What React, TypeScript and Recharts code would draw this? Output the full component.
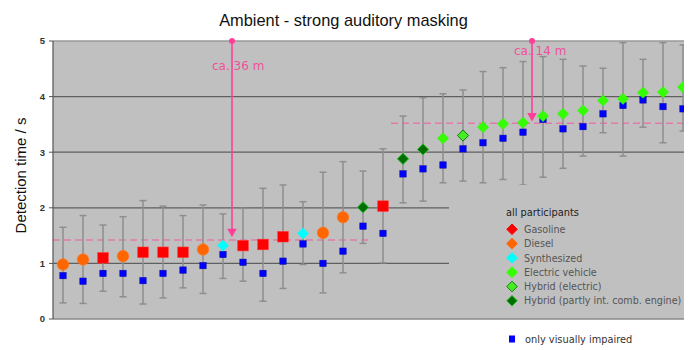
import React from 'react';
import { ScatterChart, Scatter, XAxis, YAxis, CartesianGrid, ReferenceLine, ErrorBar } from 'recharts';

// vehicle sound type per stimulus (sorted by detection time)
const soundTypes = ['D','D','G','D','G','G','G','D','S','G','G','G','S','D','D','HC','G','HC','HC','E','HE','E','E','E','E','E','E','E','E','E','E','E'];
// mean detection time, all participants (s)
const allParticipants = [0.98,1.07,1.10,1.13,1.20,1.20,1.20,1.25,1.32,1.32,1.34,1.48,1.54,1.55,1.83,2.01,2.03,2.88,3.05,3.25,3.30,3.45,3.51,3.53,3.65,3.69,3.75,3.93,3.96,4.07,4.08,4.17];
// mean detection time, only visually impaired (s)
const visuallyImpaired = [0.78,0.68,0.82,0.82,0.69,0.82,0.88,0.96,1.16,1.02,0.82,1.04,1.35,1.00,1.22,1.67,1.54,2.61,2.70,2.77,3.06,3.17,3.25,3.36,3.59,3.42,3.46,3.69,3.84,3.94,3.82,3.78];
// spread (lower / upper bound) of all participants (s)
const rangeLow = [0.29,0.28,0.50,0.40,0.27,0.38,0.56,0.46,0.73,0.68,0.32,0.55,0.98,0.47,0.83,1.36,1.01,2.09,2.12,2.45,2.48,2.45,2.51,2.41,2.55,2.71,2.93,3.35,2.93,3.45,3.17,3.38];
const rangeHigh = [1.65,1.86,1.69,1.84,2.13,2.03,1.86,2.05,1.89,1.99,2.35,2.41,2.11,2.64,2.83,2.66,3.06,3.65,3.98,4.05,4.12,4.45,4.52,4.63,4.72,4.67,4.55,4.51,4.97,4.67,4.97,4.93];

const yTicks = [0, 1, 2, 3, 4, 5];
const innerGrid = [1, 2, 3, 4];

const typeKeys = ['G', 'D', 'S', 'E', 'HE', 'HC'];
const typeNames = ['Gasoline', 'Diesel', 'Synthesized', 'Electric vehicle', 'Hybrid (electric)', 'Hybrid (partly int. comb. engine)'];

// threshold levels (s) and their stimulus index span
const thresholdLevels = [1.42, 3.52];
const thresholdFrom = [-0.5, 16.4];
const thresholdTo = [15.45, 31.45];

// distance annotations: stimulus index position, arrow end (s), label
const distanceAt = [8.45, 23.45];
const distanceEnd = [1.47, 3.55];
const distanceLabels = ['ca. 36 m', 'ca. 14 m'];

const W = 684;
const H = 342;
const PINK = '#ff3f98';

const styles: Record<string, { shape: string; fill: string; stroke: string }> = {
  G: { shape: 'square', fill: '#ff0000', stroke: '#ff3b3b' },
  D: { shape: 'circle', fill: '#ff6600', stroke: '#ff7a22' },
  S: { shape: 'diamond', fill: '#00ffff', stroke: '#22eeee' },
  E: { shape: 'diamond', fill: '#33ff00', stroke: '#33ee11' },
  HE: { shape: 'diamond', fill: '#44ee22', stroke: '#137a13' },
  HC: { shape: 'diamond', fill: '#006e00', stroke: '#22bb22' },
};

const makeShape = (key: string) => (props: any) => {
  const { cx, cy } = props;
  const s = styles[key];
  if (s.shape === 'circle') return <circle cx={cx} cy={cy} r={5.8} fill={s.fill} stroke={s.stroke} strokeWidth={0.6} />;
  if (s.shape === 'square') return <rect x={cx - 5.3} y={cy - 5.3} width={10.6} height={10.6} fill={s.fill} stroke={s.stroke} strokeWidth={0.6} />;
  const r = 5.6;
  return <polygon points={`${cx},${cy - r} ${cx + r},${cy} ${cx},${cy + r} ${cx - r},${cy}`} fill={s.fill} stroke={s.stroke} strokeWidth={key === 'E' || key === 'S' ? 0.5 : 1} />;
};

const blueShape = (props: any) => {
  const { cx, cy } = props;
  return <rect x={cx - 3.2} y={cy - 3.2} width={6.4} height={6.4} fill="#0000ff" stroke="#0a0aa0" strokeWidth={0.5} />;
};

const emptyShape = () => <g />;

const errData = allParticipants.map((v, i) => ({ x: i, y: v, err: [v - rangeLow[i], rangeHigh[i] - v] }));
const blueData = visuallyImpaired.map((v, i) => ({ x: i, y: v }));
const typeData = typeKeys.map((k) =>
  allParticipants.map((v, i) => ({ x: i, y: v, t: soundTypes[i] })).filter((d) => d.t === k)
);

const labelOffsets = [{ dx: -20, dy: 29 }, { dx: -18, dy: 14 }];

const arrowShape = (idx: number) => (p: any) => {
  const { x1, y1, y2 } = p;
  const top = Math.min(y1, y2);
  const bottom = Math.max(y1, y2);
  const off = labelOffsets[idx];
  return (
    <g>
      <line x1={x1} y1={top} x2={x1} y2={bottom - 7} stroke={PINK} strokeWidth={1.6} />
      <circle cx={x1} cy={top} r={3} fill={PINK} />
      <polygon points={`${x1 - 4.8},${bottom - 8.5} ${x1 + 4.8},${bottom - 8.5} ${x1},${bottom}`} fill={PINK} />
      <text x={x1 + off.dx} y={top + off.dy} fill="#f0509c" fontSize={12} fontFamily="DejaVu Sans">{distanceLabels[idx]}</text>
    </g>
  );
};

export default function App() {
  const legendX = 441;
  const legendY = 177;
  return (
    <div style={{ position: 'relative', width: W, height: H }}>
      <ScatterChart width={W} height={H} margin={{ top: 33, right: 0, bottom: 31, left: 0 }}>
        <CartesianGrid fill="#c0c0c0" horizontal={false} vertical={false} />
        <XAxis type="number" dataKey="x" domain={[-0.5, 31.45]} hide />
        <YAxis
          type="number"
          dataKey="y"
          domain={[0, 5]}
          ticks={yTicks}
          width={45}
          tickSize={4}
          tickMargin={4}
          axisLine={{ stroke: '#555', strokeWidth: 1.2 }}
          tickLine={{ stroke: '#555' }}
          tick={{ fontSize: 9.5, fontWeight: 'bold', fill: '#333', fontFamily: 'Liberation Sans' }}
        />
        <ReferenceLine y={0} stroke="#8a8a8a" strokeWidth={1.5} />
        <ReferenceLine y={5} stroke="#9a9a9a" strokeWidth={1.5} />
        {innerGrid.map((g) => (
          <ReferenceLine key={g} y={g} stroke="#5f5f5f" strokeWidth={1.3} />
        ))}
        {thresholdLevels.map((lv, i) => (
          <ReferenceLine
            key={'t' + i}
            segment={[{ x: thresholdFrom[i], y: lv }, { x: thresholdTo[i], y: lv }]}
            stroke="#e27aaa"
            strokeWidth={1.5}
            strokeDasharray="7 4"
          />
        ))}
        <Scatter data={errData} shape={emptyShape} isAnimationActive={false}>
          <ErrorBar dataKey="err" direction="y" width={3.5} stroke="#8e8e8e" strokeWidth={1.5} isAnimationActive={false} />
        </Scatter>
        <Scatter data={blueData} shape={blueShape} isAnimationActive={false} />
        {typeKeys.map((k, i) => (
          <Scatter key={k} data={typeData[i]} shape={makeShape(k)} isAnimationActive={false} />
        ))}
        {distanceAt.map((x, i) => (
          <ReferenceLine
            key={'a' + i}
            segment={[{ x, y: 5 }, { x, y: distanceEnd[i] }]}
            stroke={PINK}
            shape={arrowShape(i)}
          />
        ))}
      </ScatterChart>
      <svg width={W} height={H} style={{ position: 'absolute', left: 0, top: 0, pointerEvents: 'none' }}>
        <text x={335.5} y={18} textAnchor="middle" fontSize={16.4} fontFamily="Liberation Sans" fill="#111">
          Ambient - strong auditory masking
        </text>
        <text
          x={18}
          y={167.5}
          transform="rotate(-90 18 167.5)"
          textAnchor="middle"
          fontSize={15}
          fontFamily="Liberation Sans"
          fill="#111"
        >
          Detection time / s
        </text>
        <rect x={legendX} y={legendY} width={W - legendX} height={132} fill="#c0c0c0" />
        <text x={legendX + 57} y={legendY + 31.3} fontSize={9.8} fontFamily="DejaVu Sans" fill="#222">
          all participants
        </text>
        {typeKeys.map((k, i) => {
          const cy = legendY + 44.3 + i * 14.3;
          const cx = legendX + 63;
          const r = 5.3;
          const s = styles[k];
          return (
            <g key={k}>
              <polygon
                points={`${cx},${cy - r} ${cx + r},${cy} ${cx},${cy + r} ${cx - r},${cy}`}
                fill={s.fill}
                stroke={k === 'HE' || k === 'HC' ? s.stroke : s.fill}
                strokeWidth={1}
              />
              <text x={legendX + 75} y={cy + 3.6} fontSize={9.6} fontFamily="DejaVu Sans" fill="#555">
                {typeNames[i]}
              </text>
            </g>
          );
        })}
        <rect x={501} y={327.5} width={6} height={7} fill="#0000ff" />
        <text x={517} y={334.6} fontSize={9.8} fontFamily="DejaVu Sans" fill="#333">
          only visually impaired
        </text>
      </svg>
    </div>
  );
}
